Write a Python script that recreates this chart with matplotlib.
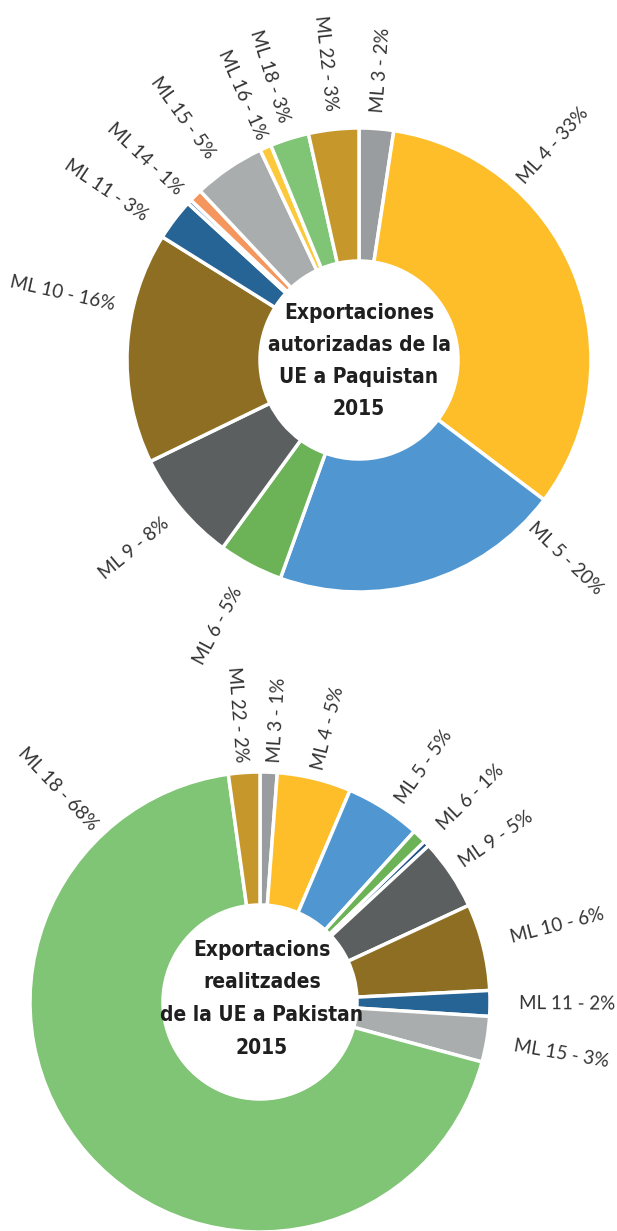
import numpy as np
import matplotlib
matplotlib.use('Agg')
import matplotlib.pyplot as plt
from matplotlib import font_manager as fm

# top chart: EU authorised exports to Pakistan 2015
top_labels = ['ML 3 - 2%', 'ML 4 - 33%', 'ML 5 - 20%', 'ML 6 - 5%', 'ML 9 - 8%',
              'ML 10 - 16%', 'ML 11 - 3%', '', 'ML 14 - 1%', 'ML 15 - 5%',
              'ML 16 - 1%', 'ML 18 - 3%', 'ML 22 - 3%']
top_values = [2.4, 32.9, 20.2, 4.5, 7.8, 16.1, 2.9, 0.3, 0.9, 5.0, 0.8, 2.7, 3.5]
top_colors = ['#9a9d9f', '#fdbe2a', '#5097d2', '#6cb257', '#5b5f60', '#8e6e22',
              '#266496', '#5b8fd0', '#f4965e', '#aaadad', '#fdc93c', '#80c475', '#c6972a']

# bottom chart: EU exports actually made to Pakistan 2015
bot_labels = ['ML 3 - 1%', 'ML 4 - 5%', 'ML 5 - 5%', 'ML 6 - 1%', '', 'ML 9 - 5%',
              'ML 10 - 6%', 'ML 11 - 2%', 'ML 15 - 3%', 'ML 18 - 68%', 'ML 22 - 2%']
bot_values = [1.2, 5.2, 5.3, 1.0, 0.4, 5.0, 6.1, 1.8, 3.2, 68.6, 2.2]
bot_colors = ['#9a9d9f', '#fdbe2a', '#5097d2', '#6cb257', '#1e4f86', '#5b5f60',
              '#8e6e22', '#266496', '#aaadad', '#80c475', '#c6972a']

W, H = 617, 1231

# look for a narrow / condensed bold face for the centre titles
narrow = None
for f in fm.fontManager.ttflist:
    nm = (f.name + ' ' + f.fname).lower()
    if ('narrow' in nm or 'condensed' in nm) and f.weight in ('bold', 700):
        narrow = f.fname
        break

fig = plt.figure(figsize=(W / 100, H / 100), dpi=100)
ax = fig.add_axes([0, 0, 1, 1])

lbl_font = dict(family=['Lato', 'DejaVu Sans'], fontsize=13.5, color='#333333')
if narrow:
    ctr_font = dict(fontproperties=fm.FontProperties(fname=narrow, size=15))
else:
    ctr_font = dict(family='DejaVu Sans', fontweight='bold', fontsize=14)
ctr_font.update(color='#1f1f1f', ha='center', va='center')


def donut(values, colors, labels, cx, cy, r, r_in, place=None, gap=18):
    ax.pie(values, colors=colors, startangle=90, counterclock=False, center=(cx, cy), radius=r,
           wedgeprops=dict(width=r - r_in, edgecolor='white', linewidth=2.5))
    fr = np.cumsum(values) / np.sum(values)
    mids = fr - np.asarray(values) / np.sum(values) / 2
    place = place or {}
    for i, txt in enumerate(labels):
        if not txt:
            continue
        pos, g = place.get(i, (None, None))
        theta = (mids[i] if pos is None else pos) * 360
        a = np.radians(90 - theta)
        R = r + (gap if g is None else g)
        x, y = cx + R * np.cos(a), cy + R * np.sin(a)
        deg = np.degrees(a)
        if np.cos(a) >= -1e-9:
            rot, ha = deg, 'left'
        else:
            rot, ha = deg + 180, 'right'
        rot = (rot + 180) % 360 - 180
        ax.text(x, y, txt, rotation=rot, rotation_mode='anchor', ha=ha, va='center', **lbl_font)


# label placement tweaks: index -> (fraction of turn, gap from ring)
top_place = {0: (None, 16), 1: (0.117, 9), 2: (0.372, 6), 3: (None, 26), 4: (None, 19),
             5: (0.785, 18), 6: (0.844, 25), 8: (0.87, 13), 9: (0.90, 19),
             10: (None, 10), 11: (None, 17), 12: (None, 19)}
bot_place = {0: (0.0093, 10), 1: (0.039, 9), 2: (0.097, 14), 3: (0.127, 21), 5: (0.154, 14),
             6: (0.21, 29), 7: (0.251, 29), 8: (0.277, 28), 9: (0.879, 10), 10: (0.9875, 10)}

# top
donut(top_values, top_colors, top_labels, 359, H - 360, 232, 99, place=top_place)
for k, line in enumerate(['Exportaciones', 'autorizadas de la', 'UE a Paquistan', '2015']):
    ax.text(359, H - (313 + k * 32), line, **ctr_font)

# bottom
donut(bot_values, bot_colors, bot_labels, 260, H - 1002, 230, 97, place=bot_place)
for k, line in enumerate(['Exportacions', 'realitzades', 'de la UE a Pakistan', '2015']):
    ax.text(262, H - (950 + k * 32.5), line, **ctr_font)

ax.set_xlim(0, W)
ax.set_ylim(0, H)
ax.set_aspect('equal')
ax.axis('off')
fig.savefig('out.png', dpi=100, facecolor='white')
